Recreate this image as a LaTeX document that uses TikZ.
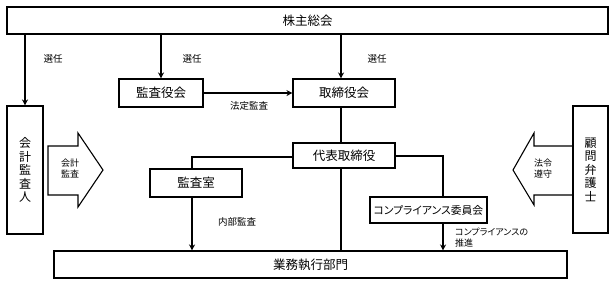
\documentclass[tikz,border=0pt]{standalone}
\usepackage{fontspec}
\setmainfont{Noto Sans CJK JP}
\newfontfamily\jpprop[RawFeature=+palt]{Noto Sans CJK JP}
\usetikzlibrary{arrows.meta,calc}
\begin{document}
\begin{tikzpicture}[x=1pt,y=-1pt,
  box/.style={draw,line width=1.1pt,inner sep=0pt,font=\fontsize{12.5}{14}\selectfont},
  vbox/.style={draw,line width=1.1pt,inner sep=0pt,align=center,font=\fontsize{12}{13.5}\selectfont},
  lbl/.style={inner sep=0pt,font=\fontsize{9.5}{11}\selectfont},
  conn/.style={line width=1.1pt},
  arr/.style={line width=1.1pt,-{Stealth[length=6pt,width=6pt]}},
  blockarrow/.style={draw,line width=1.1pt,line join=miter}]
\useasboundingbox (0,0) rectangle (615,285);
\node[box,minimum width=601pt,minimum height=27pt] (share) at (307.5,20.5) {株主総会};
\node[vbox,minimum width=36pt,minimum height=128pt] (auditor) at (25,170) {会\\計\\監\\査\\人};
\node[vbox,minimum width=35pt,minimum height=127pt] (lawyer) at (590.5,169.5) {顧\\問\\弁\\護\\士};
\node[box,minimum width=84pt,minimum height=28pt] (kansayaku) at (161,93) {監査役会};
\node[box,minimum width=102pt,minimum height=28pt] (board) at (344,93) {取締役会};
\node[box,minimum width=102pt,minimum height=25pt] (ceo) at (344,155.5) {代表取締役};
\node[box,minimum width=92pt,minimum height=28pt] (office) at (196,183) {監査室};
\node[box,minimum width=117pt,minimum height=26pt,font=\jpprop\fontsize{10.8}{13}\selectfont] (comp) at (428.5,210) {コンプライアンス委員会};
\node[box,minimum width=513pt,minimum height=27pt] (exec) at (310.5,264.5) {業務執行部門};
% column coordinates
\coordinate (cB) at (341,0);
\coordinate (cO) at (192,0);
\coordinate (cC) at (443,0);
% connectors
\draw[arr] (share.south -| auditor.north) -- (auditor.north);
\draw[arr] (share.south -| kansayaku.north) -- (kansayaku.north);
\draw[arr] (share.south -| cB) -- (board.north -| cB);
\draw[arr] (kansayaku.east) -- (board.west);
\draw[conn] (board.south -| cB) -- (ceo.north -| cB);
\draw[conn] ($(ceo.west)+(0,1.5)$) -| (office.north -| cO);
\draw[arr] (office.south -| cO) -- (exec.north -| cO);
\draw[conn] (ceo.south -| cB) -- (exec.north -| cB);
\draw[conn] ($(ceo.east)+(0,0.5)$) -| (comp.north -| cC);
\draw[arr] (comp.south -| cC) -- (exec.north -| cC);
% block arrows
\draw[blockarrow] (48,146) -- (78,146) -- (78,133) -- (103,170) -- (78,207) -- (78,195) -- (48,195) -- cycle;
\draw[blockarrow] (lawyer.west |- 0,146) -- (534,146) -- (534,133) -- (513,170) -- (534,205) -- (534,195) -- (lawyer.west |- 0,195);
% labels
\node[lbl] (l1) at (53,59) {選任};
\node[lbl] (l2) at (192,59) {選任};
\node[lbl] (l3) at (377,59) {選任};
\node[lbl] (l4) at (249,106) {法定監査};
\node[lbl] (l5) at (237,222) {内部監査};
\node[lbl,anchor=west,align=left,font=\jpprop\fontsize{9}{11.5}\selectfont] (l6) at (455,237.5) {コンプライアンスの\\推進};
\node[lbl,align=center,font=\fontsize{9}{10.5}\selectfont] (l7) at (70,168.5) {会計\\監査};
\node[lbl,align=center,font=\fontsize{9}{10.5}\selectfont] (l8) at (543,168.5) {法令\\遵守};
\end{tikzpicture}
\end{document}
